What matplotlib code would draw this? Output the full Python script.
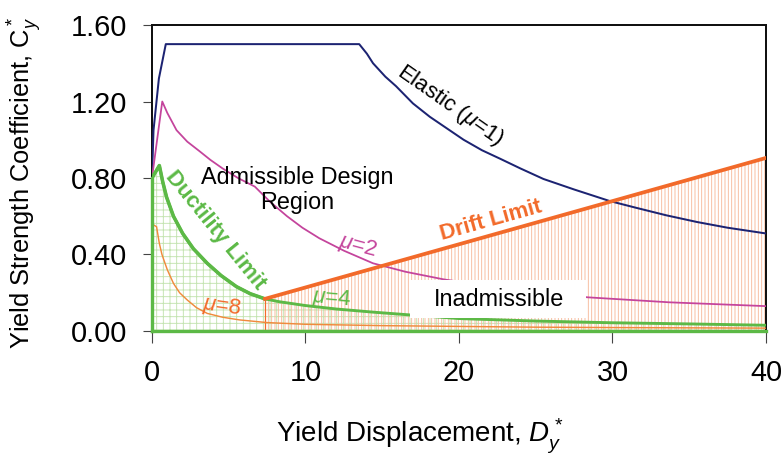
import numpy as np
import matplotlib
matplotlib.use('Agg')
import matplotlib.pyplot as plt
from matplotlib.patches import Rectangle

plt.rcParams['font.family'] = 'Liberation Sans'
plt.rcParams['mathtext.fontset'] = 'custom'
plt.rcParams['mathtext.rm'] = 'Liberation Sans'
plt.rcParams['mathtext.it'] = 'Liberation Sans:italic'
plt.rcParams['hatch.linewidth'] = 0.8

# values (D_y*, C_y*)
elastic_d = [0, 0.1, 0.45, 0.9, 13.5, 14.0, 14.4, 15.2, 15.9, 17.0, 18.1, 19.2, 20.3, 21.5, 22.7,
             24.0, 25.5, 27.5, 29.8, 31.5, 33.5, 35.5, 37.5, 40]
elastic_c = [0.80, 1.05, 1.32, 1.50, 1.50, 1.45, 1.40, 1.33, 1.28, 1.19, 1.12, 1.06, 1.00, 0.945, 0.90,
             0.85, 0.795, 0.74, 0.68, 0.645, 0.605, 0.57, 0.54, 0.51]

mu2_d = [0, 0.67, 1.0, 1.6, 2.3, 3.1, 3.8, 4.6, 5.6, 6.7, 7.7, 8.8, 9.8, 10.9, 12.5, 14.4, 16.5,
         19.0, 23.5, 28.4, 33.7, 40]
mu2_c = [0.80, 1.20, 1.14, 1.05, 0.99, 0.94, 0.895, 0.85, 0.80, 0.755, 0.675, 0.60, 0.54, 0.485,
         0.42, 0.354, 0.31, 0.27, 0.215, 0.176, 0.15, 0.13]

mu4_d = [0, 0.48, 0.7, 0.95, 1.4, 2.0, 2.7, 3.6, 4.5, 5.5, 6.4, 7.36, 8.3, 10.0, 12.0, 14.5, 16.8,
         20, 25, 30, 35, 40]
mu4_c = [0.80, 0.865, 0.78, 0.70, 0.60, 0.51, 0.43, 0.354, 0.29, 0.232, 0.195, 0.168, 0.153, 0.133,
         0.115, 0.098, 0.084, 0.065, 0.052, 0.043, 0.037, 0.03]

mu8_d = [0.1, 0.3, 0.48, 0.65, 0.85, 1.0, 1.4, 1.8, 2.3, 2.9, 3.6, 4.6, 5.7, 7.5, 10, 15, 20, 25, 30, 40]
mu8_c = [0.555, 0.545, 0.458, 0.40, 0.354, 0.32, 0.249, 0.20, 0.162, 0.122, 0.092, 0.072, 0.058,
         0.044, 0.035, 0.028, 0.024, 0.02, 0.018, 0.015]

drift_d = [7.36, 40]
drift_c = [0.168, 0.905]

x_ticks = [0, 10, 20, 30, 40]
y_ticks = [0.0, 0.4, 0.8, 1.2, 1.6]

navy = '#1c2372'
magenta = '#c4449c'
green = '#5cb946'
orange = '#f08a3c'
drift_col = '#f26a2a'

fig = plt.figure(figsize=(7.85 / 0.8, 4.58 / 0.8), dpi=80)
ax = fig.add_axes([0.1936, 0.2773, 0.7822, 0.6681])

# hatched regions
gx = [0] + mu4_d + [mu4_d[-1]]
gy = [0] + mu4_c + [0]
ax.fill(gx, gy, facecolor='none', edgecolor='#c3e3b0', hatch='++', lw=0, zorder=1)

px = [drift_d[0]] + drift_d + [drift_d[-1]]
py = [0] + drift_c + [0]
ax.fill(px, py, facecolor='none', edgecolor='#f7b99a', hatch='||||', lw=0, zorder=1)
ax.plot([px[-1], px[0], px[1]], [py[-1], py[0], py[1]], color=drift_col, lw=1.1, zorder=2)
ax.plot(px[2:], py[2:], color=drift_col, lw=2, zorder=2)

# curves
ax.plot(elastic_d, elastic_c, color=navy, lw=1.8, zorder=3)
ax.plot(mu2_d, mu2_c, color=magenta, lw=1.6, zorder=3)
ax.plot(mu8_d, mu8_c, color=orange, lw=1.3, zorder=3)
n_duct = mu4_d.index(drift_d[0]) + 1
ax.plot(mu4_d, mu4_c, color=green, lw=2.6, zorder=4)
ax.plot(mu4_d[:n_duct], mu4_c[:n_duct], color=green, lw=3.2, zorder=4)
ax.plot([0, 0], [0, mu4_c[0]], color=green, lw=3, zorder=4, clip_on=False)
ax.plot([0, 40], [0, 0], color=green, lw=3, zorder=4, clip_on=False)
ax.plot(drift_d, drift_c, color=drift_col, lw=3.4, zorder=5)

# labels on the plot
ax.add_patch(Rectangle((16.8, 0.068), 11.5, 0.199, facecolor='white', edgecolor='none', zorder=6))
ax.text(22.6, 0.167, 'Inadmissible', ha='center', va='center', fontsize=21, zorder=7)
ax.text(9.45, 0.737, 'Admissible Design\nRegion', ha='center', va='center', fontsize=21,
        linespacing=1.1, zorder=7)
ax.text(19.4, 1.18, r'Elastic ($\mu$=1)', rotation=-35, ha='center', va='center', fontsize=20, zorder=7)
ax.text(4.1, 0.528, 'Ductility Limit', rotation=-51, ha='center', va='center', fontsize=20,
        fontweight='bold', color=green, zorder=7)
ax.text(22.1, 0.575, 'Drift Limit', rotation=15.6, ha='center', va='center', fontsize=20,
        fontweight='bold', color=drift_col, zorder=7)
ax.text(13.4, 0.44, r'$\mu$=2', rotation=-15, ha='center', va='center', fontsize=20, color=magenta, zorder=7)
ax.text(11.7, 0.167, r'$\mu$=4', rotation=-5, ha='center', va='center', fontsize=20, color=green, zorder=7)
ax.text(4.56, 0.125, r'$\mu$=8', rotation=-8, ha='center', va='center', fontsize=20, color=drift_col, zorder=7)

ax.set_xlim(0, 40)
ax.set_ylim(0, 1.6)
ax.set_xticks(x_ticks)
ax.set_yticks(y_ticks)
ax.set_yticklabels(['%.2f' % v for v in y_ticks])
ax.tick_params(axis='both', labelsize=26, color='#444444', width=1)
ax.tick_params(axis='y', length=8, pad=14)
ax.tick_params(axis='x', length=11, pad=14)
for s in ['top', 'left', 'right']:
    ax.spines[s].set_linewidth(1.8)
    ax.spines[s].set_color('#111111')
ax.spines['bottom'].set_visible(False)

ax.set_xlabel(r'Yield Displacement, $D_y^*$', fontsize=25)
ax.xaxis.set_label_coords(0.4365, -0.346)
ax.xaxis.label.set_va('center')
ax.set_ylabel(r'Yield Strength Coefficient, C$_y^*$', fontsize=23)
ax.yaxis.set_label_coords(-0.207, 0.484)
ax.yaxis.label.set_va('center')

fig.savefig('out.png', dpi=80)
